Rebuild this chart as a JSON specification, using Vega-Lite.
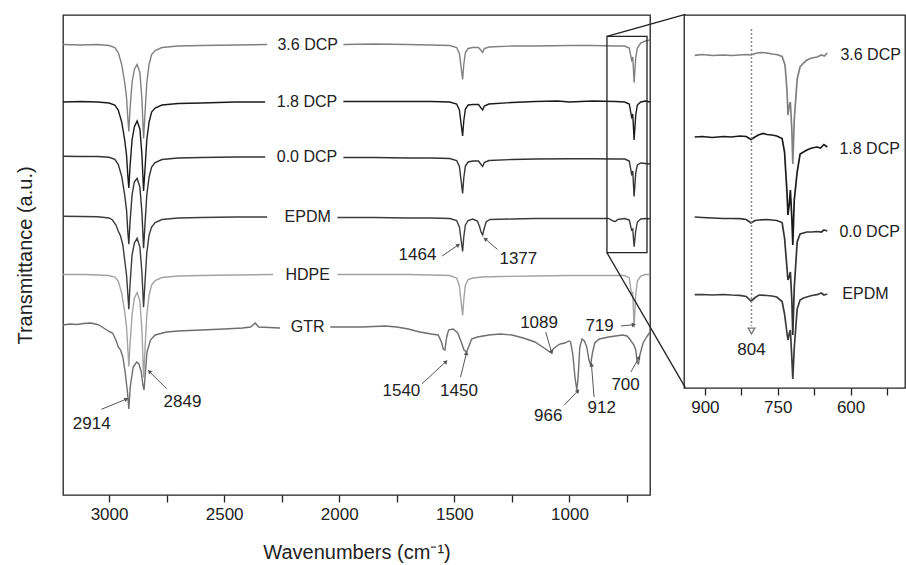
{
  "$schema": "https://vega.github.io/schema/vega-lite/v6.json",
  "background": "white",
  "padding": {"left": 14, "top": 12, "right": 0, "bottom": 0},
  "config": {
    "font": "Liberation Sans",
    "view": {"stroke": "#222", "strokeWidth": 1.3},
    "axis": {"grid": false, "domain": false, "labelFont": "Liberation Sans", "titleFont": "Liberation Sans", "labelColor": "#222", "titleColor": "#222", "tickColor": "#222", "titleFontWeight": "normal"},
    "text": {"font": "Liberation Sans", "color": "#222"}
  },
  "bounds": "flush",
  "spacing": 34,
  "datasets": {
    "main": [
      {"s":"3.6 DCP","g":1,"w":3200,"t":450.5},{"s":"3.6 DCP","g":1,"w":3120,"t":450},{"s":"3.6 DCP","g":1,"w":3050,"t":450.5},{"s":"3.6 DCP","g":1,"w":3000,"t":449.5},{"s":"3.6 DCP","g":1,"w":2975,"t":447.5},{"s":"3.6 DCP","g":1,"w":2960,"t":442.5},{"s":"3.6 DCP","g":1,"w":2945,"t":430.5},{"s":"3.6 DCP","g":1,"w":2932,"t":412.5},{"s":"3.6 DCP","g":1,"w":2924,"t":397.5},{"s":"3.6 DCP","g":1,"w":2918,"t":375.5},{"s":"3.6 DCP","g":1,"w":2914,"t":363.5},{"s":"3.6 DCP","g":1,"w":2909,"t":385.5},{"s":"3.6 DCP","g":1,"w":2900,"t":412.5},{"s":"3.6 DCP","g":1,"w":2890,"t":425.5},{"s":"3.6 DCP","g":1,"w":2878,"t":430.5},{"s":"3.6 DCP","g":1,"w":2866,"t":422.5},{"s":"3.6 DCP","g":1,"w":2857,"t":395.5},{"s":"3.6 DCP","g":1,"w":2850,"t":356.5},{"s":"3.6 DCP","g":1,"w":2844,"t":380.5},{"s":"3.6 DCP","g":1,"w":2836,"t":412.5},{"s":"3.6 DCP","g":1,"w":2826,"t":430.5},{"s":"3.6 DCP","g":1,"w":2815,"t":440.5},{"s":"3.6 DCP","g":1,"w":2800,"t":444.5},{"s":"3.6 DCP","g":1,"w":2770,"t":447.5},{"s":"3.6 DCP","g":1,"w":2700,"t":449},{"s":"3.6 DCP","g":1,"w":2600,"t":449.5},{"s":"3.6 DCP","g":1,"w":2450,"t":450},{"s":"3.6 DCP","g":1,"w":2313,"t":450.5},
      {"s":"3.6 DCP","g":2,"w":1982,"t":450.5},{"s":"3.6 DCP","g":2,"w":1850,"t":451},{"s":"3.6 DCP","g":2,"w":1700,"t":450.5},{"s":"3.6 DCP","g":2,"w":1600,"t":450},{"s":"3.6 DCP","g":2,"w":1520,"t":449.5},{"s":"3.6 DCP","g":2,"w":1490,"t":447.5},{"s":"3.6 DCP","g":2,"w":1478,"t":441.5},{"s":"3.6 DCP","g":2,"w":1470,"t":426.5},{"s":"3.6 DCP","g":2,"w":1464,"t":415.5},{"s":"3.6 DCP","g":2,"w":1459,"t":430.5},{"s":"3.6 DCP","g":2,"w":1452,"t":442.5},{"s":"3.6 DCP","g":2,"w":1440,"t":446.5},{"s":"3.6 DCP","g":2,"w":1420,"t":447.5},{"s":"3.6 DCP","g":2,"w":1395,"t":447.5},{"s":"3.6 DCP","g":2,"w":1384,"t":444.5},{"s":"3.6 DCP","g":2,"w":1377,"t":442.5},{"s":"3.6 DCP","g":2,"w":1370,"t":446.5},{"s":"3.6 DCP","g":2,"w":1350,"t":448},{"s":"3.6 DCP","g":2,"w":1250,"t":449},{"s":"3.6 DCP","g":2,"w":1150,"t":449},{"s":"3.6 DCP","g":2,"w":1000,"t":449.5},{"s":"3.6 DCP","g":2,"w":900,"t":449.5},{"s":"3.6 DCP","g":2,"w":800,"t":449},{"s":"3.6 DCP","g":2,"w":760,"t":449},{"s":"3.6 DCP","g":2,"w":740,"t":447},{"s":"3.6 DCP","g":2,"w":730,"t":435},{"s":"3.6 DCP","g":2,"w":725,"t":438},{"s":"3.6 DCP","g":2,"w":719,"t":412.5},{"s":"3.6 DCP","g":2,"w":712,"t":437},{"s":"3.6 DCP","g":2,"w":705,"t":447},{"s":"3.6 DCP","g":2,"w":690,"t":452},{"s":"3.6 DCP","g":2,"w":670,"t":454},{"s":"3.6 DCP","g":2,"w":650,"t":455},

      {"s":"1.8 DCP","g":1,"w":3200,"t":393},{"s":"1.8 DCP","g":1,"w":3120,"t":393.5},{"s":"1.8 DCP","g":1,"w":3050,"t":393},{"s":"1.8 DCP","g":1,"w":3000,"t":392},{"s":"1.8 DCP","g":1,"w":2975,"t":390},{"s":"1.8 DCP","g":1,"w":2960,"t":385},{"s":"1.8 DCP","g":1,"w":2945,"t":373},{"s":"1.8 DCP","g":1,"w":2932,"t":355},{"s":"1.8 DCP","g":1,"w":2924,"t":340},{"s":"1.8 DCP","g":1,"w":2918,"t":318},{"s":"1.8 DCP","g":1,"w":2914,"t":307},{"s":"1.8 DCP","g":1,"w":2909,"t":328},{"s":"1.8 DCP","g":1,"w":2900,"t":355},{"s":"1.8 DCP","g":1,"w":2890,"t":368},{"s":"1.8 DCP","g":1,"w":2878,"t":374},{"s":"1.8 DCP","g":1,"w":2866,"t":366},{"s":"1.8 DCP","g":1,"w":2857,"t":340},{"s":"1.8 DCP","g":1,"w":2850,"t":304},{"s":"1.8 DCP","g":1,"w":2844,"t":325},{"s":"1.8 DCP","g":1,"w":2836,"t":355},{"s":"1.8 DCP","g":1,"w":2826,"t":373},{"s":"1.8 DCP","g":1,"w":2815,"t":383},{"s":"1.8 DCP","g":1,"w":2800,"t":387},{"s":"1.8 DCP","g":1,"w":2770,"t":390},{"s":"1.8 DCP","g":1,"w":2700,"t":391.5},{"s":"1.8 DCP","g":1,"w":2600,"t":392},{"s":"1.8 DCP","g":1,"w":2450,"t":393},{"s":"1.8 DCP","g":1,"w":2322,"t":393},
      {"s":"1.8 DCP","g":2,"w":1982,"t":393.5},{"s":"1.8 DCP","g":2,"w":1850,"t":393.5},{"s":"1.8 DCP","g":2,"w":1700,"t":393.5},{"s":"1.8 DCP","g":2,"w":1600,"t":393.5},{"s":"1.8 DCP","g":2,"w":1520,"t":393},{"s":"1.8 DCP","g":2,"w":1490,"t":391},{"s":"1.8 DCP","g":2,"w":1478,"t":385},{"s":"1.8 DCP","g":2,"w":1470,"t":370},{"s":"1.8 DCP","g":2,"w":1464,"t":359},{"s":"1.8 DCP","g":2,"w":1459,"t":374},{"s":"1.8 DCP","g":2,"w":1452,"t":386},{"s":"1.8 DCP","g":2,"w":1440,"t":390},{"s":"1.8 DCP","g":2,"w":1420,"t":390.5},{"s":"1.8 DCP","g":2,"w":1395,"t":390.5},{"s":"1.8 DCP","g":2,"w":1384,"t":387},{"s":"1.8 DCP","g":2,"w":1377,"t":385},{"s":"1.8 DCP","g":2,"w":1370,"t":389},{"s":"1.8 DCP","g":2,"w":1350,"t":391},{"s":"1.8 DCP","g":2,"w":1250,"t":392.5},{"s":"1.8 DCP","g":2,"w":1150,"t":393.5},{"s":"1.8 DCP","g":2,"w":1050,"t":394},{"s":"1.8 DCP","g":2,"w":1000,"t":393},{"s":"1.8 DCP","g":2,"w":900,"t":394},{"s":"1.8 DCP","g":2,"w":800,"t":393.5},{"s":"1.8 DCP","g":2,"w":760,"t":393},{"s":"1.8 DCP","g":2,"w":740,"t":391},{"s":"1.8 DCP","g":2,"w":730,"t":378},{"s":"1.8 DCP","g":2,"w":725,"t":381},{"s":"1.8 DCP","g":2,"w":719,"t":355},{"s":"1.8 DCP","g":2,"w":712,"t":380},{"s":"1.8 DCP","g":2,"w":705,"t":390},{"s":"1.8 DCP","g":2,"w":690,"t":393},{"s":"1.8 DCP","g":2,"w":670,"t":394},{"s":"1.8 DCP","g":2,"w":650,"t":393},

      {"s":"0.0 DCP","g":1,"w":3200,"t":338.7},{"s":"0.0 DCP","g":1,"w":3120,"t":338.5},{"s":"0.0 DCP","g":1,"w":3050,"t":338.5},{"s":"0.0 DCP","g":1,"w":3000,"t":337.7},{"s":"0.0 DCP","g":1,"w":2975,"t":335.7},{"s":"0.0 DCP","g":1,"w":2960,"t":330.7},{"s":"0.0 DCP","g":1,"w":2945,"t":318.7},{"s":"0.0 DCP","g":1,"w":2932,"t":300},{"s":"0.0 DCP","g":1,"w":2924,"t":285},{"s":"0.0 DCP","g":1,"w":2918,"t":262},{"s":"0.0 DCP","g":1,"w":2914,"t":250.7},{"s":"0.0 DCP","g":1,"w":2909,"t":272},{"s":"0.0 DCP","g":1,"w":2900,"t":300},{"s":"0.0 DCP","g":1,"w":2890,"t":313},{"s":"0.0 DCP","g":1,"w":2878,"t":316.7},{"s":"0.0 DCP","g":1,"w":2866,"t":308},{"s":"0.0 DCP","g":1,"w":2857,"t":282},{"s":"0.0 DCP","g":1,"w":2850,"t":246.7},{"s":"0.0 DCP","g":1,"w":2844,"t":270},{"s":"0.0 DCP","g":1,"w":2836,"t":300},{"s":"0.0 DCP","g":1,"w":2826,"t":318},{"s":"0.0 DCP","g":1,"w":2815,"t":328},{"s":"0.0 DCP","g":1,"w":2800,"t":332.5},{"s":"0.0 DCP","g":1,"w":2770,"t":335.5},{"s":"0.0 DCP","g":1,"w":2700,"t":337},{"s":"0.0 DCP","g":1,"w":2600,"t":337.5},{"s":"0.0 DCP","g":1,"w":2450,"t":338},{"s":"0.0 DCP","g":1,"w":2322,"t":338},
      {"s":"0.0 DCP","g":2,"w":1982,"t":337.5},{"s":"0.0 DCP","g":2,"w":1850,"t":337.5},{"s":"0.0 DCP","g":2,"w":1700,"t":337},{"s":"0.0 DCP","g":2,"w":1600,"t":337},{"s":"0.0 DCP","g":2,"w":1520,"t":336.5},{"s":"0.0 DCP","g":2,"w":1490,"t":334.5},{"s":"0.0 DCP","g":2,"w":1478,"t":328.5},{"s":"0.0 DCP","g":2,"w":1470,"t":313.5},{"s":"0.0 DCP","g":2,"w":1464,"t":301.5},{"s":"0.0 DCP","g":2,"w":1459,"t":317},{"s":"0.0 DCP","g":2,"w":1452,"t":329},{"s":"0.0 DCP","g":2,"w":1440,"t":333},{"s":"0.0 DCP","g":2,"w":1420,"t":334},{"s":"0.0 DCP","g":2,"w":1395,"t":334},{"s":"0.0 DCP","g":2,"w":1384,"t":330.5},{"s":"0.0 DCP","g":2,"w":1377,"t":328.5},{"s":"0.0 DCP","g":2,"w":1370,"t":332.5},{"s":"0.0 DCP","g":2,"w":1350,"t":334.5},{"s":"0.0 DCP","g":2,"w":1250,"t":335.5},{"s":"0.0 DCP","g":2,"w":1150,"t":336},{"s":"0.0 DCP","g":2,"w":1000,"t":336.3},{"s":"0.0 DCP","g":2,"w":900,"t":336.3},{"s":"0.0 DCP","g":2,"w":800,"t":336},{"s":"0.0 DCP","g":2,"w":760,"t":336},{"s":"0.0 DCP","g":2,"w":740,"t":334},{"s":"0.0 DCP","g":2,"w":730,"t":321},{"s":"0.0 DCP","g":2,"w":725,"t":324},{"s":"0.0 DCP","g":2,"w":719,"t":298.5},{"s":"0.0 DCP","g":2,"w":712,"t":322},{"s":"0.0 DCP","g":2,"w":705,"t":330},{"s":"0.0 DCP","g":2,"w":690,"t":332},{"s":"0.0 DCP","g":2,"w":670,"t":331.5},{"s":"0.0 DCP","g":2,"w":650,"t":331},

      {"s":"EPDM","g":1,"w":3200,"t":278.7},{"s":"EPDM","g":1,"w":3120,"t":278.5},{"s":"EPDM","g":1,"w":3050,"t":278.2},{"s":"EPDM","g":1,"w":3000,"t":277},{"s":"EPDM","g":1,"w":2985,"t":275},{"s":"EPDM","g":1,"w":2970,"t":270},{"s":"EPDM","g":1,"w":2960,"t":264},{"s":"EPDM","g":1,"w":2950,"t":259},{"s":"EPDM","g":1,"w":2940,"t":250},{"s":"EPDM","g":1,"w":2932,"t":235},{"s":"EPDM","g":1,"w":2924,"t":220},{"s":"EPDM","g":1,"w":2918,"t":200},{"s":"EPDM","g":1,"w":2914,"t":185.7},{"s":"EPDM","g":1,"w":2909,"t":210},{"s":"EPDM","g":1,"w":2900,"t":240},{"s":"EPDM","g":1,"w":2890,"t":252},{"s":"EPDM","g":1,"w":2878,"t":256.7},{"s":"EPDM","g":1,"w":2866,"t":248},{"s":"EPDM","g":1,"w":2857,"t":222},{"s":"EPDM","g":1,"w":2850,"t":187.7},{"s":"EPDM","g":1,"w":2844,"t":212},{"s":"EPDM","g":1,"w":2836,"t":242},{"s":"EPDM","g":1,"w":2826,"t":260},{"s":"EPDM","g":1,"w":2815,"t":268},{"s":"EPDM","g":1,"w":2800,"t":272.5},{"s":"EPDM","g":1,"w":2770,"t":275.5},{"s":"EPDM","g":1,"w":2700,"t":277},{"s":"EPDM","g":1,"w":2600,"t":277.5},{"s":"EPDM","g":1,"w":2450,"t":278},{"s":"EPDM","g":1,"w":2313,"t":278},
      {"s":"EPDM","g":2,"w":2008,"t":277.5},{"s":"EPDM","g":2,"w":1850,"t":277.5},{"s":"EPDM","g":2,"w":1700,"t":277},{"s":"EPDM","g":2,"w":1600,"t":277},{"s":"EPDM","g":2,"w":1520,"t":276.5},{"s":"EPDM","g":2,"w":1490,"t":274.5},{"s":"EPDM","g":2,"w":1478,"t":268},{"s":"EPDM","g":2,"w":1470,"t":254},{"s":"EPDM","g":2,"w":1464,"t":243.5},{"s":"EPDM","g":2,"w":1459,"t":258},{"s":"EPDM","g":2,"w":1452,"t":270},{"s":"EPDM","g":2,"w":1440,"t":274.5},{"s":"EPDM","g":2,"w":1420,"t":276},{"s":"EPDM","g":2,"w":1400,"t":274},{"s":"EPDM","g":2,"w":1390,"t":268},{"s":"EPDM","g":2,"w":1384,"t":263},{"s":"EPDM","g":2,"w":1377,"t":260},{"s":"EPDM","g":2,"w":1372,"t":265},{"s":"EPDM","g":2,"w":1362,"t":273},{"s":"EPDM","g":2,"w":1345,"t":275.5},{"s":"EPDM","g":2,"w":1250,"t":276},{"s":"EPDM","g":2,"w":1150,"t":276.5},{"s":"EPDM","g":2,"w":1000,"t":276.5},{"s":"EPDM","g":2,"w":900,"t":276.5},{"s":"EPDM","g":2,"w":830,"t":276.5},{"s":"EPDM","g":2,"w":810,"t":274},{"s":"EPDM","g":2,"w":800,"t":273.5},{"s":"EPDM","g":2,"w":790,"t":275.5},{"s":"EPDM","g":2,"w":760,"t":276.5},{"s":"EPDM","g":2,"w":740,"t":275},{"s":"EPDM","g":2,"w":730,"t":265},{"s":"EPDM","g":2,"w":725,"t":266},{"s":"EPDM","g":2,"w":719,"t":248.3},{"s":"EPDM","g":2,"w":712,"t":264},{"s":"EPDM","g":2,"w":705,"t":273},{"s":"EPDM","g":2,"w":690,"t":276},{"s":"EPDM","g":2,"w":670,"t":276.5},{"s":"EPDM","g":2,"w":650,"t":276.3},

      {"s":"HDPE","g":1,"w":3200,"t":220.5},{"s":"HDPE","g":1,"w":3100,"t":220.5},{"s":"HDPE","g":1,"w":3000,"t":219.5},{"s":"HDPE","g":1,"w":2975,"t":218},{"s":"HDPE","g":1,"w":2960,"t":214},{"s":"HDPE","g":1,"w":2945,"t":202},{"s":"HDPE","g":1,"w":2932,"t":183},{"s":"HDPE","g":1,"w":2924,"t":168},{"s":"HDPE","g":1,"w":2918,"t":145},{"s":"HDPE","g":1,"w":2914,"t":128.5},{"s":"HDPE","g":1,"w":2909,"t":150},{"s":"HDPE","g":1,"w":2900,"t":180},{"s":"HDPE","g":1,"w":2890,"t":197},{"s":"HDPE","g":1,"w":2878,"t":202.5},{"s":"HDPE","g":1,"w":2866,"t":194},{"s":"HDPE","g":1,"w":2857,"t":165},{"s":"HDPE","g":1,"w":2850,"t":117.5},{"s":"HDPE","g":1,"w":2844,"t":145},{"s":"HDPE","g":1,"w":2836,"t":180},{"s":"HDPE","g":1,"w":2826,"t":200},{"s":"HDPE","g":1,"w":2815,"t":210},{"s":"HDPE","g":1,"w":2800,"t":214.5},{"s":"HDPE","g":1,"w":2770,"t":217.5},{"s":"HDPE","g":1,"w":2700,"t":219},{"s":"HDPE","g":1,"w":2600,"t":219.5},{"s":"HDPE","g":1,"w":2450,"t":220},{"s":"HDPE","g":1,"w":2287,"t":220.5},
      {"s":"HDPE","g":2,"w":2008,"t":220.5},{"s":"HDPE","g":2,"w":1850,"t":220.5},{"s":"HDPE","g":2,"w":1700,"t":220.5},{"s":"HDPE","g":2,"w":1600,"t":220},{"s":"HDPE","g":2,"w":1520,"t":219.5},{"s":"HDPE","g":2,"w":1490,"t":217},{"s":"HDPE","g":2,"w":1478,"t":209},{"s":"HDPE","g":2,"w":1470,"t":192},{"s":"HDPE","g":2,"w":1464,"t":179.5},{"s":"HDPE","g":2,"w":1459,"t":195},{"s":"HDPE","g":2,"w":1452,"t":210},{"s":"HDPE","g":2,"w":1440,"t":215.5},{"s":"HDPE","g":2,"w":1420,"t":217},{"s":"HDPE","g":2,"w":1380,"t":218},{"s":"HDPE","g":2,"w":1300,"t":218.5},{"s":"HDPE","g":2,"w":1150,"t":219},{"s":"HDPE","g":2,"w":1000,"t":219.5},{"s":"HDPE","g":2,"w":900,"t":219.5},{"s":"HDPE","g":2,"w":800,"t":219.5},{"s":"HDPE","g":2,"w":760,"t":219.5},{"s":"HDPE","g":2,"w":740,"t":217},{"s":"HDPE","g":2,"w":730,"t":200},{"s":"HDPE","g":2,"w":725,"t":203},{"s":"HDPE","g":2,"w":719,"t":167.5},{"s":"HDPE","g":2,"w":712,"t":200},{"s":"HDPE","g":2,"w":705,"t":214},{"s":"HDPE","g":2,"w":690,"t":219},{"s":"HDPE","g":2,"w":670,"t":220.5},{"s":"HDPE","g":2,"w":650,"t":220.5},

      {"s":"GTR","g":1,"w":3200,"t":170},{"s":"GTR","g":1,"w":3170,"t":171},{"s":"GTR","g":1,"w":3140,"t":170.5},{"s":"GTR","g":1,"w":3110,"t":171.5},{"s":"GTR","g":1,"w":3080,"t":172},{"s":"GTR","g":1,"w":3050,"t":170.5},{"s":"GTR","g":1,"w":3030,"t":168},{"s":"GTR","g":1,"w":3010,"t":165},{"s":"GTR","g":1,"w":2995,"t":163},{"s":"GTR","g":1,"w":2985,"t":162},{"s":"GTR","g":1,"w":2970,"t":155},{"s":"GTR","g":1,"w":2960,"t":148},{"s":"GTR","g":1,"w":2950,"t":145},{"s":"GTR","g":1,"w":2940,"t":138},{"s":"GTR","g":1,"w":2930,"t":123},{"s":"GTR","g":1,"w":2920,"t":103},{"s":"GTR","g":1,"w":2914,"t":86},{"s":"GTR","g":1,"w":2908,"t":108},{"s":"GTR","g":1,"w":2895,"t":128},{"s":"GTR","g":1,"w":2880,"t":133},{"s":"GTR","g":1,"w":2870,"t":131},{"s":"GTR","g":1,"w":2860,"t":123},{"s":"GTR","g":1,"w":2853,"t":110},{"s":"GTR","g":1,"w":2848,"t":105},{"s":"GTR","g":1,"w":2842,"t":123},{"s":"GTR","g":1,"w":2835,"t":143},{"s":"GTR","g":1,"w":2820,"t":155},{"s":"GTR","g":1,"w":2800,"t":160},{"s":"GTR","g":1,"w":2750,"t":163},{"s":"GTR","g":1,"w":2700,"t":164},{"s":"GTR","g":1,"w":2600,"t":165},{"s":"GTR","g":1,"w":2500,"t":166},{"s":"GTR","g":1,"w":2420,"t":167},{"s":"GTR","g":1,"w":2385,"t":168},{"s":"GTR","g":1,"w":2365,"t":172},{"s":"GTR","g":1,"w":2350,"t":168},{"s":"GTR","g":1,"w":2257,"t":167},
      {"s":"GTR","g":2,"w":2039,"t":168},{"s":"GTR","g":2,"w":1900,"t":168},{"s":"GTR","g":2,"w":1800,"t":169},{"s":"GTR","g":2,"w":1750,"t":168},{"s":"GTR","g":2,"w":1700,"t":166},{"s":"GTR","g":2,"w":1650,"t":163},{"s":"GTR","g":2,"w":1600,"t":161},{"s":"GTR","g":2,"w":1570,"t":160},{"s":"GTR","g":2,"w":1556,"t":153},{"s":"GTR","g":2,"w":1548,"t":146},{"s":"GTR","g":2,"w":1541,"t":145},{"s":"GTR","g":2,"w":1533,"t":158},{"s":"GTR","g":2,"w":1525,"t":165},{"s":"GTR","g":2,"w":1505,"t":166},{"s":"GTR","g":2,"w":1485,"t":162},{"s":"GTR","g":2,"w":1470,"t":153},{"s":"GTR","g":2,"w":1458,"t":145},{"s":"GTR","g":2,"w":1447,"t":143},{"s":"GTR","g":2,"w":1438,"t":148},{"s":"GTR","g":2,"w":1425,"t":156},{"s":"GTR","g":2,"w":1400,"t":158},{"s":"GTR","g":2,"w":1350,"t":160},{"s":"GTR","g":2,"w":1300,"t":161},{"s":"GTR","g":2,"w":1250,"t":160},{"s":"GTR","g":2,"w":1200,"t":157},{"s":"GTR","g":2,"w":1150,"t":153},{"s":"GTR","g":2,"w":1110,"t":147},{"s":"GTR","g":2,"w":1085,"t":143},{"s":"GTR","g":2,"w":1070,"t":146},{"s":"GTR","g":2,"w":1055,"t":149},{"s":"GTR","g":2,"w":1040,"t":151},{"s":"GTR","g":2,"w":1020,"t":152},{"s":"GTR","g":2,"w":1003,"t":154},{"s":"GTR","g":2,"w":995,"t":153},{"s":"GTR","g":2,"w":985,"t":140},{"s":"GTR","g":2,"w":976,"t":118},{"s":"GTR","g":2,"w":968,"t":105},{"s":"GTR","g":2,"w":962,"t":118},{"s":"GTR","g":2,"w":955,"t":148},{"s":"GTR","g":2,"w":945,"t":156},{"s":"GTR","g":2,"w":935,"t":154},{"s":"GTR","g":2,"w":925,"t":148},{"s":"GTR","g":2,"w":915,"t":135},{"s":"GTR","g":2,"w":908,"t":130},{"s":"GTR","g":2,"w":900,"t":142},{"s":"GTR","g":2,"w":890,"t":152},{"s":"GTR","g":2,"w":870,"t":156},{"s":"GTR","g":2,"w":830,"t":158},{"s":"GTR","g":2,"w":800,"t":159},{"s":"GTR","g":2,"w":770,"t":160},{"s":"GTR","g":2,"w":750,"t":159},{"s":"GTR","g":2,"w":735,"t":155},{"s":"GTR","g":2,"w":720,"t":150},{"s":"GTR","g":2,"w":712,"t":145},{"s":"GTR","g":2,"w":705,"t":132},{"s":"GTR","g":2,"w":700,"t":131},{"s":"GTR","g":2,"w":694,"t":140},{"s":"GTR","g":2,"w":680,"t":152},{"s":"GTR","g":2,"w":665,"t":158},{"s":"GTR","g":2,"w":650,"t":163}
    ],
    "inset": [
      {"s":"3.6 DCP","w":921,"t":332.7},{"s":"3.6 DCP","w":905,"t":333.5},{"s":"3.6 DCP","w":885,"t":332.5},{"s":"3.6 DCP","w":862,"t":333},{"s":"3.6 DCP","w":845,"t":332.5},{"s":"3.6 DCP","w":828,"t":333},{"s":"3.6 DCP","w":815,"t":333.5},{"s":"3.6 DCP","w":805,"t":333},{"s":"3.6 DCP","w":793,"t":335},{"s":"3.6 DCP","w":782,"t":335.5},{"s":"3.6 DCP","w":772,"t":335},{"s":"3.6 DCP","w":762,"t":334},{"s":"3.6 DCP","w":752,"t":333.5},{"s":"3.6 DCP","w":741,"t":331.5},{"s":"3.6 DCP","w":735,"t":323},{"s":"3.6 DCP","w":731,"t":298},{"s":"3.6 DCP","w":729,"t":273},{"s":"3.6 DCP","w":726,"t":283},{"s":"3.6 DCP","w":724,"t":286},{"s":"3.6 DCP","w":721,"t":258},{"s":"3.6 DCP","w":719,"t":224},{"s":"3.6 DCP","w":716,"t":268},{"s":"3.6 DCP","w":710,"t":309},{"s":"3.6 DCP","w":704,"t":321},{"s":"3.6 DCP","w":697,"t":325},{"s":"3.6 DCP","w":690,"t":328},{"s":"3.6 DCP","w":680,"t":330},{"s":"3.6 DCP","w":669,"t":331},{"s":"3.6 DCP","w":660,"t":333},{"s":"3.6 DCP","w":654,"t":332},{"s":"3.6 DCP","w":648,"t":335},
      {"s":"1.8 DCP","w":921,"t":251},{"s":"1.8 DCP","w":905,"t":251.5},{"s":"1.8 DCP","w":885,"t":250.5},{"s":"1.8 DCP","w":862,"t":251.5},{"s":"1.8 DCP","w":845,"t":251},{"s":"1.8 DCP","w":828,"t":252},{"s":"1.8 DCP","w":815,"t":251.5},{"s":"1.8 DCP","w":805,"t":248.5},{"s":"1.8 DCP","w":797,"t":251},{"s":"1.8 DCP","w":790,"t":253},{"s":"1.8 DCP","w":780,"t":254.5},{"s":"1.8 DCP","w":772,"t":253.5},{"s":"1.8 DCP","w":762,"t":253},{"s":"1.8 DCP","w":752,"t":252},{"s":"1.8 DCP","w":741,"t":249.5},{"s":"1.8 DCP","w":736,"t":236},{"s":"1.8 DCP","w":731,"t":196},{"s":"1.8 DCP","w":729,"t":173},{"s":"1.8 DCP","w":726,"t":185},{"s":"1.8 DCP","w":724,"t":198},{"s":"1.8 DCP","w":721,"t":170},{"s":"1.8 DCP","w":719,"t":143},{"s":"1.8 DCP","w":716,"t":188},{"s":"1.8 DCP","w":710,"t":216},{"s":"1.8 DCP","w":704,"t":234},{"s":"1.8 DCP","w":697,"t":236},{"s":"1.8 DCP","w":690,"t":238},{"s":"1.8 DCP","w":680,"t":240},{"s":"1.8 DCP","w":669,"t":241},{"s":"1.8 DCP","w":662,"t":240},{"s":"1.8 DCP","w":655,"t":243.5},{"s":"1.8 DCP","w":648,"t":241},
      {"s":"0.0 DCP","w":921,"t":171},{"s":"0.0 DCP","w":905,"t":170.5},{"s":"0.0 DCP","w":885,"t":170},{"s":"0.0 DCP","w":862,"t":169.5},{"s":"0.0 DCP","w":845,"t":169.5},{"s":"0.0 DCP","w":828,"t":169.3},{"s":"0.0 DCP","w":815,"t":168.5},{"s":"0.0 DCP","w":805,"t":165},{"s":"0.0 DCP","w":797,"t":167.5},{"s":"0.0 DCP","w":788,"t":168},{"s":"0.0 DCP","w":772,"t":168.5},{"s":"0.0 DCP","w":762,"t":168},{"s":"0.0 DCP","w":752,"t":167.5},{"s":"0.0 DCP","w":741,"t":165.5},{"s":"0.0 DCP","w":736,"t":150},{"s":"0.0 DCP","w":731,"t":120},{"s":"0.0 DCP","w":729,"t":108},{"s":"0.0 DCP","w":726,"t":112},{"s":"0.0 DCP","w":724,"t":116},{"s":"0.0 DCP","w":721,"t":88},{"s":"0.0 DCP","w":719,"t":53},{"s":"0.0 DCP","w":716,"t":100},{"s":"0.0 DCP","w":710,"t":146},{"s":"0.0 DCP","w":704,"t":154},{"s":"0.0 DCP","w":697,"t":155},{"s":"0.0 DCP","w":690,"t":156},{"s":"0.0 DCP","w":680,"t":156},{"s":"0.0 DCP","w":669,"t":156.5},{"s":"0.0 DCP","w":660,"t":156},{"s":"0.0 DCP","w":655,"t":158},{"s":"0.0 DCP","w":648,"t":157},
      {"s":"EPDM","w":921,"t":93.3},{"s":"EPDM","w":905,"t":93.5},{"s":"EPDM","w":885,"t":93},{"s":"EPDM","w":862,"t":93.5},{"s":"EPDM","w":845,"t":93},{"s":"EPDM","w":828,"t":92.7},{"s":"EPDM","w":815,"t":91.5},{"s":"EPDM","w":805,"t":87},{"s":"EPDM","w":795,"t":91},{"s":"EPDM","w":788,"t":93},{"s":"EPDM","w":772,"t":92.5},{"s":"EPDM","w":762,"t":92},{"s":"EPDM","w":752,"t":91},{"s":"EPDM","w":741,"t":86.5},{"s":"EPDM","w":736,"t":74},{"s":"EPDM","w":731,"t":55},{"s":"EPDM","w":729,"t":48},{"s":"EPDM","w":726,"t":55},{"s":"EPDM","w":724,"t":58},{"s":"EPDM","w":721,"t":30},{"s":"EPDM","w":719,"t":9},{"s":"EPDM","w":716,"t":40},{"s":"EPDM","w":710,"t":79},{"s":"EPDM","w":704,"t":88},{"s":"EPDM","w":697,"t":90},{"s":"EPDM","w":690,"t":91},{"s":"EPDM","w":680,"t":92.5},{"s":"EPDM","w":669,"t":93.3},{"s":"EPDM","w":660,"t":95},{"s":"EPDM","w":655,"t":93},{"s":"EPDM","w":648,"t":94}
    ],
    "mainLabels": [
      {"s":"3.6 DCP","w":2137,"t":450.5},{"s":"1.8 DCP","w":2140,"t":393},{"s":"0.0 DCP","w":2140,"t":338.5},{"s":"EPDM","w":2137,"t":278},{"s":"HDPE","w":2137,"t":220.5},{"s":"GTR","w":2137,"t":168}
    ],
    "peaks": [
      {"label":"2914","tw":3033,"tt":85.7,"hw":2927,"ht":95.7,"lw":3075,"lt":71,"ang":67.6},
      {"label":"2849","tw":2750,"tt":106.3,"hw":2823,"ht":123,"lw":2681,"lt":93,"ang":315},
      {"label":"1464","tw":1553,"tt":239,"hw":1485,"ht":249.7,"lw":1660,"lt":240,"ang":55.6},
      {"label":"1377","tw":1313,"tt":245.7,"hw":1364,"ht":255.7,"lw":1222,"lt":236,"ang":310.5},
      {"label":"1089","tw":1103,"tt":163,"hw":1078,"ht":143,"lw":1132,"lt":172,"ang":164},
      {"label":"719","tw":776,"tt":169,"hw":723,"ht":170.3,"lw":869,"lt":169,"ang":84},
      {"label":"1540","tw":1640,"tt":111.3,"hw":1538,"ht":133,"lw":1730,"lt":104,"ang":47},
      {"label":"1450","tw":1473,"tt":118,"hw":1448,"ht":141.3,"lw":1480,"lt":104,"ang":13.7},
      {"label":"966","tw":1023,"tt":89.7,"hw":965,"ht":103.7,"lw":1092,"lt":79,"ang":43.7},
      {"label":"912","tw":893,"tt":98,"hw":904,"ht":129.7,"lw":860,"lt":87.3,"ang":355},
      {"label":"700","tw":733,"tt":123,"hw":699,"ht":137,"lw":756,"lt":110.5,"ang":28.8}
    ],
    "zoomBox": [{"w1":837,"w2":663,"t1":458.7,"t2":242.3}],
    "zoomLinks": [{"w1":837,"t1":458.7,"w2":496.5,"t2":480.7},{"w1":837,"t1":242.3,"w2":496.5,"t2":107.3}],
    "insetLabels": [
      {"s":"3.6 DCP","w":621,"t":333},{"s":"1.8 DCP","w":623,"t":239},{"s":"0.0 DCP","w":623,"t":156},{"s":"EPDM","w":617,"t":94}
    ],
    "marker": [{"w":804,"t1":359,"t2":62,"th":57,"lt":38,"label":"804"}]
  },
  "hconcat": [
    {
      "width": 587,
      "height": 480,
      "layer": [
        {
          "data": {"name": "main"},
          "mark": {"type": "line", "strokeWidth": 1.4},
          "encoding": {
            "x": {"field": "w", "type": "quantitative", "scale": {"domain": [650, 3200], "reverse": true, "nice": false, "zero": false},
              "axis": {"title": "Wavenumbers (cm⁻¹)", "values": [3000, 2750, 2500, 2250, 2000, 1750, 1500, 1250, 1000, 750], "format": "d", "labelExpr": "datum.value % 500 === 0 ? datum.label : ''", "tickSize": 7, "tickWidth": 1.3, "labelFontSize": 17, "labelPadding": 4, "titleFontSize": 20, "titlePadding": 20}},
            "y": {"field": "t", "type": "quantitative", "scale": {"domain": [0, 480], "nice": false, "zero": false},
              "axis": {"title": "Transmittance (a.u.)", "labels": false, "ticks": false, "domain": false, "titleFontSize": 20, "titlePadding": 28}},
            "color": {"field": "s", "type": "nominal", "legend": null,
              "scale": {"domain": ["3.6 DCP", "1.8 DCP", "0.0 DCP", "EPDM", "HDPE", "GTR"], "range": ["#808080", "#1a1a1a", "#333333", "#3c3c3c", "#a3a3a3", "#6e6e6e"]}},
            "detail": {"field": "g", "type": "nominal"}
          }
        },
        {
          "data": {"name": "zoomBox"},
          "mark": {"type": "rect", "fillOpacity": 0, "stroke": "#222", "strokeWidth": 1.3},
          "encoding": {
            "x": {"field": "w1", "type": "quantitative"}, "x2": {"field": "w2"},
            "y": {"field": "t1", "type": "quantitative"}, "y2": {"field": "t2"}
          }
        },
        {
          "data": {"name": "zoomLinks"},
          "mark": {"type": "rule", "color": "#222", "strokeWidth": 1.3, "clip": false},
          "encoding": {
            "x": {"field": "w1", "type": "quantitative"}, "x2": {"field": "w2"},
            "y": {"field": "t1", "type": "quantitative"}, "y2": {"field": "t2"}
          }
        },
        {
          "data": {"name": "peaks"},
          "mark": {"type": "rule", "color": "#555", "strokeWidth": 1},
          "encoding": {
            "x": {"field": "tw", "type": "quantitative"}, "x2": {"field": "hw"},
            "y": {"field": "tt", "type": "quantitative"}, "y2": {"field": "ht"}
          }
        },
        {
          "data": {"name": "peaks"},
          "mark": {"type": "point", "shape": "triangle", "filled": true, "size": 22, "color": "#555", "opacity": 1},
          "encoding": {
            "x": {"field": "hw", "type": "quantitative"},
            "y": {"field": "ht", "type": "quantitative"},
            "angle": {"field": "ang", "type": "quantitative", "scale": null}
          }
        },
        {
          "data": {"name": "peaks"},
          "mark": {"type": "text", "fontSize": 17, "align": "center", "baseline": "middle"},
          "encoding": {
            "x": {"field": "lw", "type": "quantitative"},
            "y": {"field": "lt", "type": "quantitative"},
            "text": {"field": "label"}
          }
        },
        {
          "data": {"name": "mainLabels"},
          "mark": {"type": "text", "fontSize": 16, "align": "center", "baseline": "middle"},
          "encoding": {
            "x": {"field": "w", "type": "quantitative"},
            "y": {"field": "t", "type": "quantitative"},
            "text": {"field": "s"}
          }
        }
      ]
    },
    {
      "width": 221,
      "height": 373,
      "layer": [
        {
          "data": {"name": "inset"},
          "mark": {"type": "line", "strokeWidth": 1.7},
          "encoding": {
            "x": {"field": "w", "type": "quantitative", "scale": {"domain": [488, 943], "reverse": true, "nice": false, "zero": false},
              "axis": {"title": null, "values": [900, 825, 750, 675, 600, 525], "format": "d", "labelExpr": "datum.value % 150 === 0 ? datum.label : ''", "tickSize": 7, "tickWidth": 1.3, "labelFontSize": 17, "labelPadding": 4}},
            "y": {"field": "t", "type": "quantitative", "scale": {"domain": [0, 373], "nice": false, "zero": false}, "axis": null},
            "color": {"field": "s", "type": "nominal", "legend": null,
              "scale": {"domain": ["3.6 DCP", "1.8 DCP", "0.0 DCP", "EPDM", "HDPE", "GTR"], "range": ["#808080", "#1a1a1a", "#333333", "#3c3c3c", "#a3a3a3", "#6e6e6e"]}}
          }
        },
        {
          "data": {"name": "marker"},
          "mark": {"type": "rule", "color": "#888", "strokeWidth": 1.5, "strokeDash": [2, 2]},
          "encoding": {
            "x": {"field": "w", "type": "quantitative"},
            "y": {"field": "t1", "type": "quantitative"}, "y2": {"field": "t2"}
          }
        },
        {
          "data": {"name": "marker"},
          "mark": {"type": "point", "shape": "triangle-down", "filled": false, "size": 45, "color": "#777", "strokeWidth": 1.3, "opacity": 1},
          "encoding": {
            "x": {"field": "w", "type": "quantitative"},
            "y": {"field": "th", "type": "quantitative"}
          }
        },
        {
          "data": {"name": "marker"},
          "mark": {"type": "text", "fontSize": 17, "align": "center", "baseline": "middle"},
          "encoding": {
            "x": {"field": "w", "type": "quantitative"},
            "y": {"field": "lt", "type": "quantitative"},
            "text": {"field": "label"}
          }
        },
        {
          "data": {"name": "insetLabels"},
          "mark": {"type": "text", "fontSize": 16, "align": "left", "baseline": "middle"},
          "encoding": {
            "x": {"field": "w", "type": "quantitative"},
            "y": {"field": "t", "type": "quantitative"},
            "text": {"field": "s"}
          }
        }
      ]
    }
  ]
}
